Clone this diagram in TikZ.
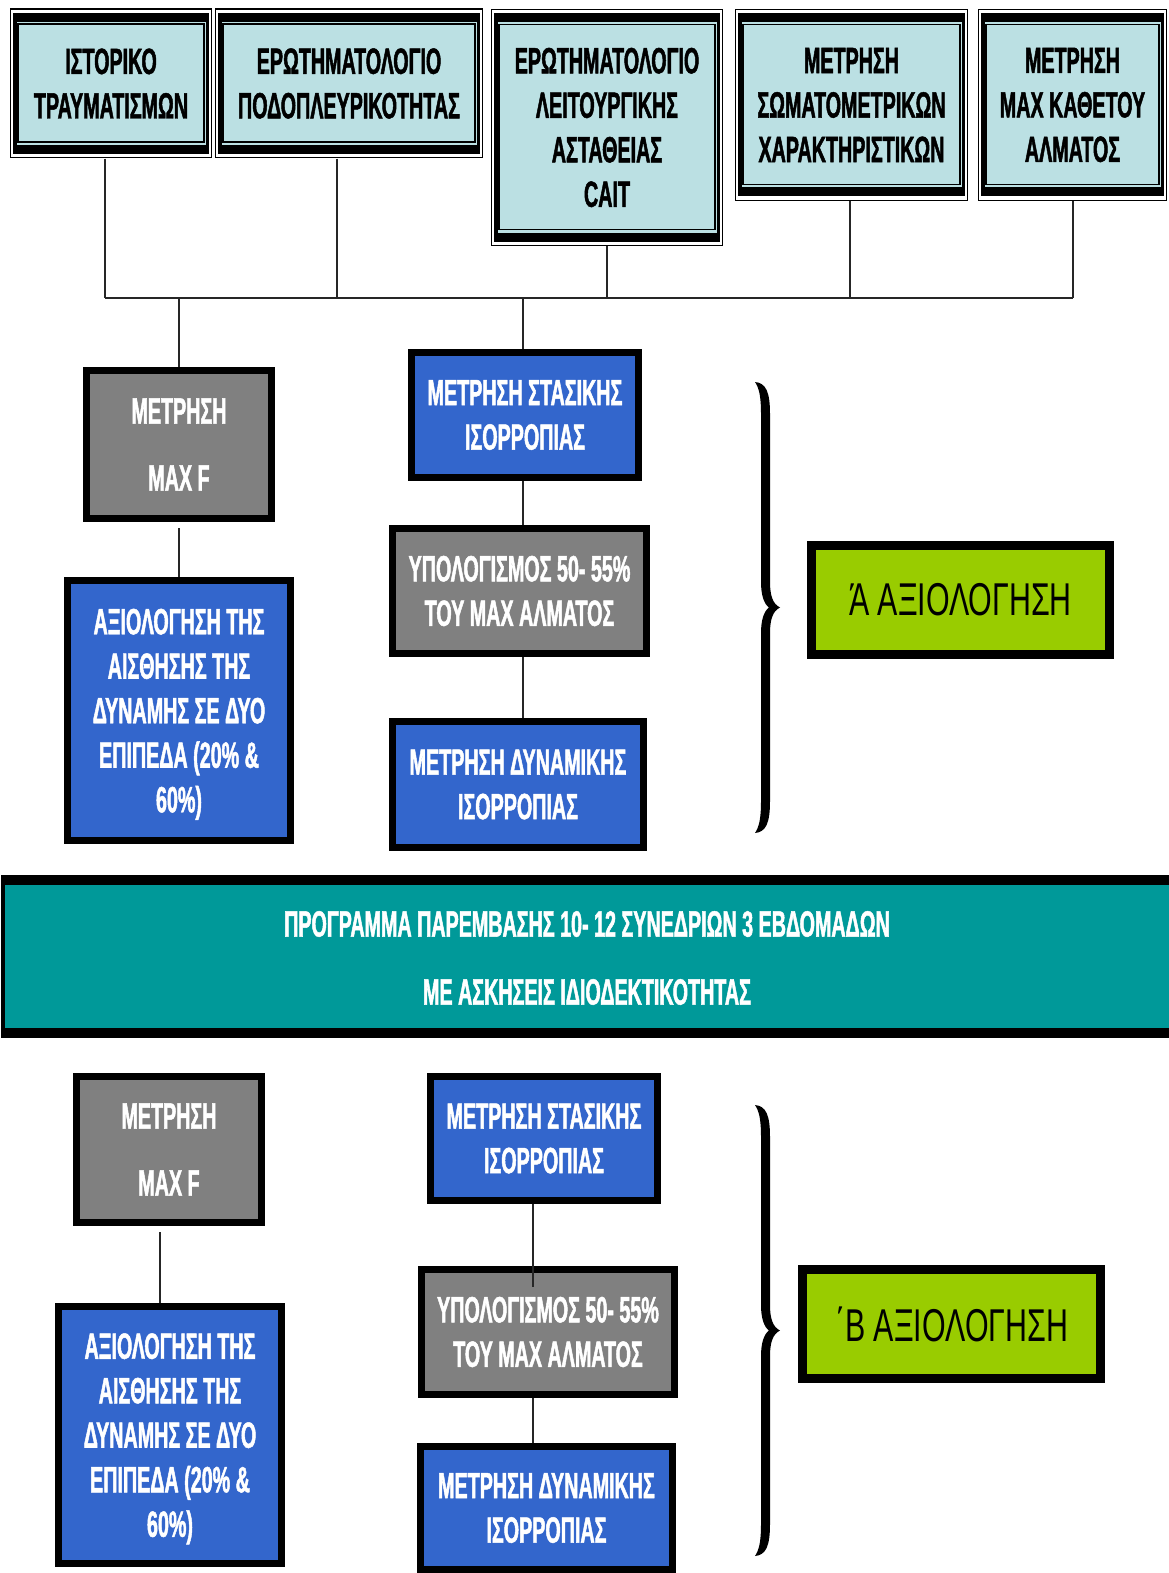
\documentclass[tikz,border=0pt]{standalone}
\usepackage{fontspec}
\setmainfont{Liberation Sans}
\newfontfamily\condfont[FakeStretch=0.54,FakeBold=1.3]{Liberation Sans}
\newfontfamily\greenfont[FakeStretch=0.66]{Liberation Sans}
\definecolor{topblue}{RGB}{187,224,227}
\definecolor{boxblue}{RGB}{51,102,204}
\definecolor{boxgrey}{RGB}{128,128,128}
\definecolor{evalgreen}{RGB}{153,204,0}
\definecolor{bannerteal}{RGB}{0,153,153}
\tikzset{
  txt/.style={align=center, inner sep=0pt, font=\condfont\bfseries\fontsize{36.5}{44.5}\selectfont},
  topbox/.style={txt, text=black, fill=white,
    path picture={
      \path (path picture bounding box.south west) coordinate (tbsw)
            (path picture bounding box.north east) coordinate (tbne);
      \draw[line width=1.2pt] ([shift={(0.6pt,0.6pt)}]tbsw) rectangle ([shift={(-0.6pt,-0.6pt)}]tbne);
      \fill[black] ([shift={(3pt,4.5pt)}]tbsw) rectangle ([shift={(-3pt,-4.3pt)}]tbne);
      \fill[topblue] ([shift={(6.5pt,13.5pt)}]tbsw) rectangle ([shift={(-6.5pt,-13.4pt)}]tbne);
      \draw[line width=1.5pt] ([shift={(8.2pt,16.5pt)}]tbsw) rectangle ([shift={(-8.2pt,-15.5pt)}]tbne);
    }},
  fillbox/.style={txt, draw=black, line width=7pt, text=white},
  bluebox/.style={fillbox, fill=boxblue},
  greybox/.style={fillbox, fill=boxgrey},
  evalbox/.style={draw=black, line width=9pt, fill=evalgreen, inner sep=0pt,
    font=\greenfont\fontsize{46}{50}\selectfont, text=black},
  conn/.style={draw=black!85, line width=1.3pt},
  bracefill/.style={fill=black},
}
\begin{document}
\begin{tikzpicture}[x=1pt,y=-1pt]
\useasboundingbox (0,0) rectangle (1168,1573);
\fill[white] (0,0) rectangle (1168,1573);

% ---- top row ----
\node[topbox, minimum width=202, minimum height=150] (t1) at (111,83.5) {ΙΣΤΟΡΙΚΟ\\ΤΡΑΥΜΑΤΙΣΜΩΝ};
\node[topbox, minimum width=268, minimum height=150] (t2) at (349,83.5) {ΕΡΩΤΗΜΑΤΟΛΟΓΙΟ\\ΠΟΔΟΠΛΕΥΡΙΚΟΤΗΤΑΣ};
\node[topbox, minimum width=232, minimum height=237] (t3) at (607,127.5) {ΕΡΩΤΗΜΑΤΟΛΟΓΙΟ\\ΛΕΙΤΟΥΡΓΙΚΗΣ\\ΑΣΤΑΘΕΙΑΣ\\CAIT};
\node[topbox, minimum width=233, minimum height=192] (t4) at (851.5,105) {ΜΕΤΡΗΣΗ\\ΣΩΜΑΤΟΜΕΤΡΙΚΩΝ\\ΧΑΡΑΚΤΗΡΙΣΤΙΚΩΝ};
\node[topbox, minimum width=189, minimum height=192] (t5) at (1072.5,105) {ΜΕΤΡΗΣΗ\\MAX ΚΑΘΕΤΟΥ\\ΑΛΜΑΤΟΣ};

\coordinate (j1) at (105,298);
\coordinate (j2) at (337,298);
\coordinate (j3) at (607,298);
\coordinate (j4) at (850,298);
\coordinate (j5) at (1073,298);
\coordinate (jA1) at (179,298);
\coordinate (jA2) at (523,298);

% ---- A evaluation ----
\node[greybox, minimum width=185, minimum height=148, font=\condfont\bfseries\fontsize{36.5}{67}\selectfont] (mA) at (179,444.5) {ΜΕΤΡΗΣΗ\\MAX F};
\node[bluebox, minimum width=227, minimum height=125] (sA) at (525,415) {ΜΕΤΡΗΣΗ ΣΤΑΣΙΚΗΣ\\ΙΣΟΡΡΟΠΙΑΣ};
\node[bluebox, minimum width=223, minimum height=260, text depth=0pt] (aA) at (179,710.5) {ΑΞΙΟΛΟΓΗΣΗ ΤΗΣ\\ΑΙΣΘΗΣΗΣ ΤΗΣ\\ΔΥΝΑΜΗΣ ΣΕ ΔΥΟ\\ΕΠΙΠΕΔΑ (20\% \&\\60\%)};
\node[greybox, minimum width=254, minimum height=125] (cA) at (519.5,591) {ΥΠΟΛΟΓΙΣΜΟΣ 50- 55\%\\ΤΟΥ MAX ΑΛΜΑΤΟΣ};
\node[bluebox, minimum width=251, minimum height=126] (dA) at (518,784.5) {ΜΕΤΡΗΣΗ ΔΥΝΑΜΙΚΗΣ\\ΙΣΟΡΡΟΠΙΑΣ};
\node[evalbox, minimum width=298, minimum height=109] (eA) at (960.5,600) {Ά ΑΞΙΟΛΟΓΗΣΗ};

\begin{scope}[shift={(0,382)}]
\fill[bracefill] (755,0) .. controls (766,1) and (770,10) .. (770,32) -- (770,200)
  .. controls (770,214) and (773,222) .. (780,225.5)
  .. controls (773,229) and (770,237) .. (770,251) -- (770,419)
  .. controls (770,441) and (766,450) .. (755,451)
  .. controls (759,445) and (761,437) .. (761,419) -- (761,251)
  .. controls (761,238) and (764,229) .. (769,225.5)
  .. controls (764,222) and (761,213) .. (761,200) -- (761,32)
  .. controls (761,14) and (759,6) .. (755,0) -- cycle;
\end{scope}

% ---- banner ----
\fill[black] (1,875) rectangle (1175,1038);
\fill[bannerteal] (5,885) rectangle (1175,1028);
\node[txt, text=white, font=\condfont\bfseries\fontsize{36.5}{68}\selectfont] (prog) at (587,958) {ΠΡΟΓΡΑΜΜΑ ΠΑΡΕΜΒΑΣΗΣ 10- 12 ΣΥΝΕΔΡΙΩΝ 3 ΕΒΔΟΜΑΔΩΝ\\ΜΕ ΑΣΚΗΣΕΙΣ ΙΔΙΟΔΕΚΤΙΚΟΤΗΤΑΣ};

% ---- B evaluation ----
\node[greybox, minimum width=185, minimum height=146, font=\condfont\bfseries\fontsize{36.5}{67}\selectfont] (mB) at (169,1149.5) {ΜΕΤΡΗΣΗ\\MAX F};
\node[bluebox, minimum width=227, minimum height=124] (sB) at (544,1138.5) {ΜΕΤΡΗΣΗ ΣΤΑΣΙΚΗΣ\\ΙΣΟΡΡΟΠΙΑΣ};
\node[bluebox, minimum width=223, minimum height=257, text depth=0pt] (aB) at (170,1435) {ΑΞΙΟΛΟΓΗΣΗ ΤΗΣ\\ΑΙΣΘΗΣΗΣ ΤΗΣ\\ΔΥΝΑΜΗΣ ΣΕ ΔΥΟ\\ΕΠΙΠΕΔΑ (20\% \&\\60\%)};
\node[greybox, minimum width=253, minimum height=125] (cB) at (548,1332) {ΥΠΟΛΟΓΙΣΜΟΣ 50- 55\%\\ΤΟΥ MAX ΑΛΜΑΤΟΣ};
\node[bluebox, minimum width=252, minimum height=123] (dB) at (546.5,1508) {ΜΕΤΡΗΣΗ ΔΥΝΑΜΙΚΗΣ\\ΙΣΟΡΡΟΠΙΑΣ};
\node[evalbox, minimum width=298, minimum height=109] (eB) at (951.5,1324) {΄Β ΑΞΙΟΛΟΓΗΣΗ};

\begin{scope}[shift={(0,1105)}]
\fill[bracefill] (755,0) .. controls (766,1) and (770,10) .. (770,32) -- (770,200)
  .. controls (770,214) and (773,222) .. (780,225.5)
  .. controls (773,229) and (770,237) .. (770,251) -- (770,419)
  .. controls (770,441) and (766,450) .. (755,451)
  .. controls (759,445) and (761,437) .. (761,419) -- (761,251)
  .. controls (761,238) and (764,229) .. (769,225.5)
  .. controls (764,222) and (761,213) .. (761,200) -- (761,32)
  .. controls (761,14) and (759,6) .. (755,0) -- cycle;
\end{scope}

\coordinate (lB1) at (160,1200);
\coordinate (lB2) at (533,1200);

% ---- connectors ----
\draw[conn] (t1.south -| j1) -- (j1);
\draw[conn] (t2.south -| j2) -- (j2);
\draw[conn] (t3.south -| j3) -- (j3);
\draw[conn] (t4.south -| j4) -- (j4);
\draw[conn] (t5.south -| j5) -- (j5);
\draw[conn] (j1) -- (j5);
\draw[conn] (jA1) -- (mA.north -| jA1);
\draw[conn] (jA2) -- (sA.north -| jA2);
\draw[conn, shorten <=6pt] (mA.south) -- (aA.north);
\draw[conn] (sA.south -| jA2) -- (cA.north -| jA2);
\draw[conn] (cA.south -| jA2) -- (dA.north -| jA2);
\draw[conn, shorten <=6pt] (mB.south -| lB1) -- (aB.north -| lB1);
\draw[conn] (sB.south -| lB2) -- ([yshift=-21pt]cB.north -| lB2);
\draw[conn] (cB.south -| lB2) -- (dB.north -| lB2);
\end{tikzpicture}
\end{document}
